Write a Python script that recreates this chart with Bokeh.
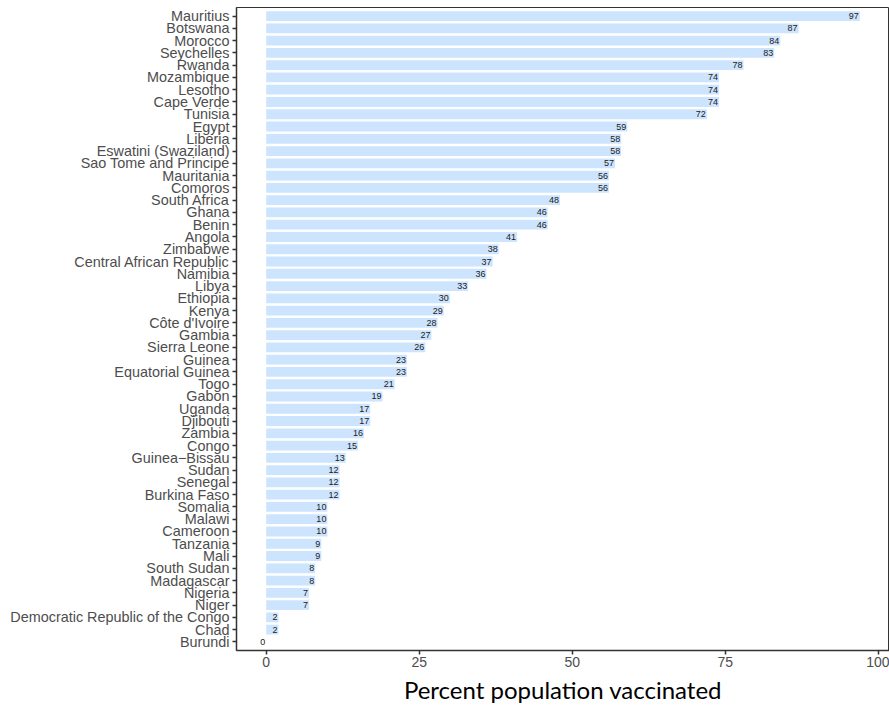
from bokeh.plotting import figure
from bokeh.models import ColumnDataSource, FactorRange, Range1d, FixedTicker
from bokeh.embed import file_html
from bokeh.resources import INLINE

countries = ["Mauritius", "Botswana", "Morocco", "Seychelles", "Rwanda", "Mozambique",
             "Lesotho", "Cape Verde", "Tunisia", "Egypt", "Liberia", "Eswatini (Swaziland)",
             "Sao Tome and Principe", "Mauritania", "Comoros", "South Africa", "Ghana", "Benin",
             "Angola", "Zimbabwe", "Central African Republic", "Namibia", "Libya", "Ethiopia",
             "Kenya", "Côte d'Ivoire", "Gambia", "Sierra Leone", "Guinea", "Equatorial Guinea",
             "Togo", "Gabon", "Uganda", "Djibouti", "Zambia", "Congo", "Guinea\u2212Bissau",
             "Sudan", "Senegal", "Burkina Faso", "Somalia", "Malawi", "Cameroon", "Tanzania",
             "Mali", "South Sudan", "Madagascar", "Nigeria", "Niger",
             "Democratic Republic of the Congo", "Chad", "Burundi"]
vaccinated = [97, 87, 84, 83, 78, 74, 74, 74, 72, 59, 58, 58, 57, 56, 56, 48, 46, 46,
              41, 38, 37, 36, 33, 30, 29, 28, 27, 26, 23, 23, 21, 19, 17, 17, 16, 15, 13,
              12, 12, 12, 10, 10, 10, 9, 9, 8, 8, 7, 7, 2, 2, 0]
x_ticks = [0, 25, 50, 75, 100]

src = ColumnDataSource(dict(country=countries, value=vaccinated,
                            label=[str(v) for v in vaccinated]))

yr = FactorRange(factors=list(reversed(countries)), range_padding=0.2,
                 range_padding_units="absolute")

p = figure(width=889, height=706, y_range=yr, x_range=Range1d(-4.85, 101.85),
           output_backend="svg", toolbar_location=None,
           min_border_left=236, min_border_right=0, min_border_top=7, min_border_bottom=56)

p.hbar(y="country", right="value", left=0, height=0.8, source=src,
       fill_color="#cce4fd", line_color=None)
p.text(x="value", y="country", text="label", source=src, text_align="right",
       text_baseline="middle", text_font_size="9px", text_color="#1a1a1a", x_offset=-1)

p.xgrid.visible = False
p.ygrid.visible = False
p.outline_line_color = "#333333"
p.outline_line_width = 1
p.background_fill_color = "white"

p.xaxis.ticker = FixedTicker(ticks=x_ticks)
p.xaxis.minor_tick_line_color = None
p.xaxis.major_tick_in = 0
p.xaxis.major_tick_out = 4
p.xaxis.major_tick_line_color = "#333333"
p.xaxis.major_tick_line_width = 1.5
p.xaxis.axis_line_color = "#333333"
p.xaxis.axis_line_width = 1.5
p.xaxis.major_label_text_font = "Liberation Sans"
p.xaxis.major_label_text_font_size = "14px"
p.xaxis.major_label_text_color = "#4d4d4d"
p.xaxis.major_label_standoff = 2
p.xaxis.axis_label = "Percent population vaccinated"
p.xaxis.axis_label_text_font = "Lato"
p.xaxis.axis_label_text_font_style = "normal"
p.xaxis.axis_label_text_font_size = "24px"
p.xaxis.axis_label_text_color = "#000000"
p.xaxis.axis_label_standoff = 5

p.yaxis.major_tick_in = 0
p.yaxis.major_tick_out = 4
p.yaxis.major_tick_line_color = "#333333"
p.yaxis.major_tick_line_width = 1.5
p.yaxis.axis_line_color = "#333333"
p.yaxis.axis_line_width = 1.5
p.yaxis.major_label_text_font = "Liberation Sans"
p.yaxis.major_label_text_font_size = "14.4px"
p.yaxis.major_label_text_color = "#4d4d4d"
p.yaxis.major_label_standoff = 3

open("out.html", "w").write(file_html(p, INLINE))
